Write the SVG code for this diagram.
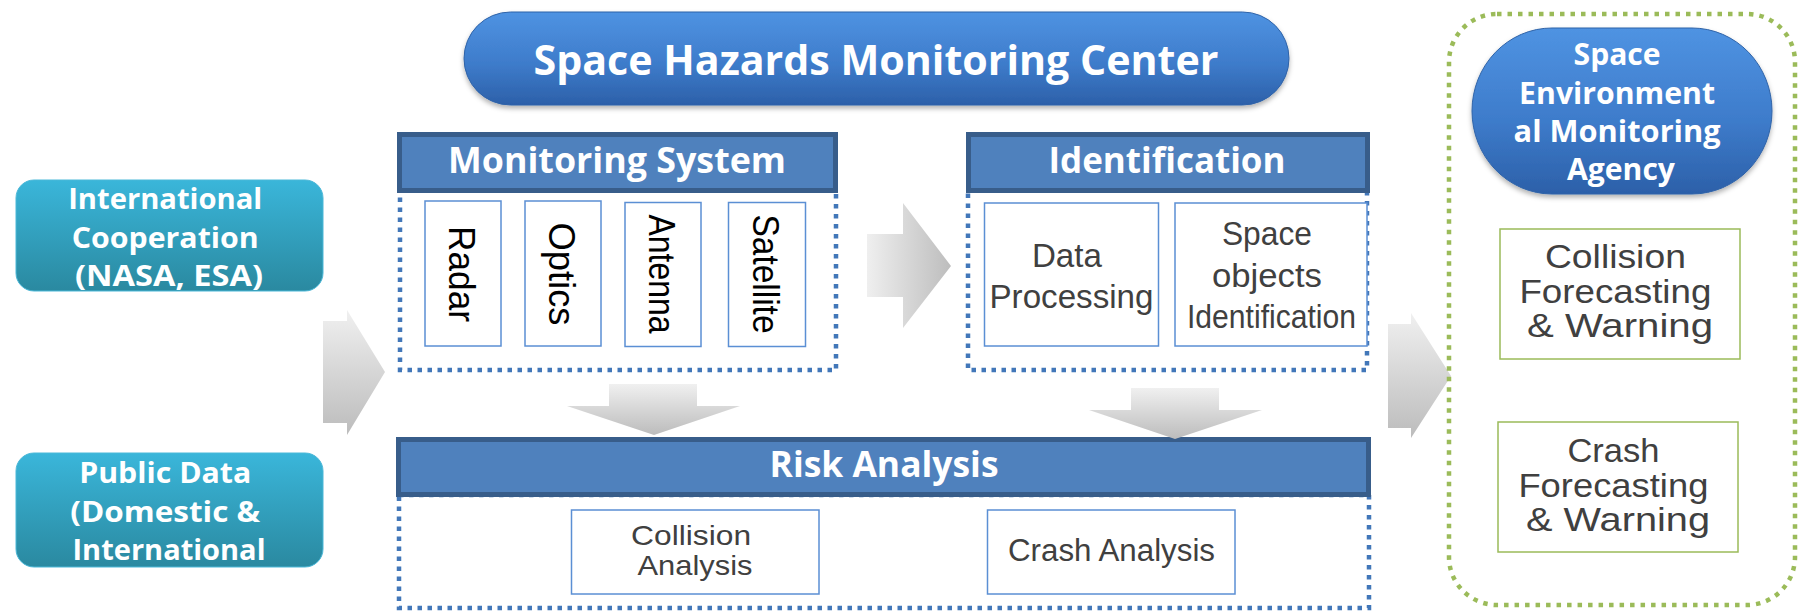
<svg xmlns="http://www.w3.org/2000/svg" width="1798" height="612" viewBox="0 0 1798 612">
<defs>
  <linearGradient id="gPill" x1="0" y1="0" x2="0" y2="1">
    <stop offset="0" stop-color="#4f93e2"/>
    <stop offset="0.55" stop-color="#3e7ccb"/>
    <stop offset="1" stop-color="#2c60a9"/>
  </linearGradient>
  <linearGradient id="gTeal" x1="0" y1="0" x2="0" y2="1">
    <stop offset="0" stop-color="#3ab6da"/>
    <stop offset="1" stop-color="#2a89a0"/>
  </linearGradient>
  <linearGradient id="gArrV" x1="0" y1="0" x2="0" y2="1">
    <stop offset="0" stop-color="#f0f0f0"/>
    <stop offset="1" stop-color="#bcbcbc"/>
  </linearGradient>
  <linearGradient id="gArrH" x1="0" y1="0" x2="1" y2="0">
    <stop offset="0" stop-color="#efefef"/>
    <stop offset="1" stop-color="#bdbdbd"/>
  </linearGradient>
  <filter id="shadow" x="-5%" y="-10%" width="110%" height="130%">
    <feDropShadow dx="0" dy="3" stdDeviation="2.5" flood-color="#000" flood-opacity="0.3"/>
  </filter>
</defs>
<style>
  .bold{font-family:"Open Sans","Noto Sans",sans-serif;font-weight:700;fill:#ffffff;text-anchor:middle}
  .reg{font-family:"Liberation Sans",Arial,sans-serif;font-weight:400;fill:#404040;text-anchor:middle}
  .rot{font-family:"Liberation Sans",Arial,sans-serif;fill:#000000;text-anchor:middle;font-size:37px}
  .hdr{fill:#4f81bd;stroke:#385d8a;stroke-width:5}
  .dotB{fill:none;stroke:#4277b9;stroke-width:4.5;stroke-dasharray:4.5 5.5}
  .dotG{fill:none;stroke:#9bbb59;stroke-width:4.5;stroke-dasharray:4.5 6}
  .box{fill:#ffffff;stroke:#5b8fd4;stroke-width:1.5}
  .gbox{fill:#ffffff;stroke:#9bbb59;stroke-width:1.5}
  .pill{fill:url(#gPill);stroke:#2f63a8;stroke-width:1}
  .teal{fill:url(#gTeal);stroke:#4bb8d8;stroke-width:1}
</style>
<rect x="0" y="0" width="1798" height="612" fill="#ffffff"/>

<g id="title">
  <rect class="pill" x="464" y="12" width="825" height="93" rx="46.5" filter="url(#shadow)"/>
  <text class="bold" x="876" y="75" font-size="42" textLength="685" lengthAdjust="spacingAndGlyphs">Space Hazards Monitoring Center</text>
</g>

<g id="intl-coop">
  <rect class="teal" x="16" y="180" width="307" height="111" rx="18"/>
  <text class="bold" font-size="29">
    <tspan x="169" y="209" textLength="194" lengthAdjust="spacingAndGlyphs">International</tspan>
    <tspan x="169" y="248" textLength="187" lengthAdjust="spacingAndGlyphs">Cooperation</tspan>
    <tspan x="169" y="286" textLength="188" lengthAdjust="spacingAndGlyphs">(NASA, ESA)</tspan>
  </text>
</g>

<g id="public-data">
  <rect class="teal" x="16" y="453" width="307" height="114" rx="18"/>
  <text class="bold" font-size="29">
    <tspan x="169" y="483" textLength="172" lengthAdjust="spacingAndGlyphs">Public Data</tspan>
    <tspan x="169" y="522" textLength="190" lengthAdjust="spacingAndGlyphs">(Domestic &amp;</tspan>
    <tspan x="169" y="560" textLength="193" lengthAdjust="spacingAndGlyphs">International</tspan>
  </text>
</g>

<g id="monitoring-system">
  <rect class="dotB" x="400" y="190" width="436" height="180"/>
  <rect class="hdr" x="399.5" y="134.5" width="436" height="56"/>
  <text class="bold" font-size="36" x="617" y="173" textLength="338" lengthAdjust="spacingAndGlyphs">Monitoring System</text>
  <g id="radar">
    <rect class="box" x="425" y="201" width="76" height="145"/>
    <text class="rot" transform="translate(449,274) rotate(90)" textLength="96" lengthAdjust="spacingAndGlyphs">Radar</text>
  </g>
  <g id="optics">
    <rect class="box" x="525" y="201" width="76" height="145"/>
    <text class="rot" transform="translate(549,274) rotate(90)" textLength="103" lengthAdjust="spacingAndGlyphs">Optics</text>
  </g>
  <g id="antenna">
    <rect class="box" x="625" y="202.5" width="76" height="144"/>
    <text class="rot" transform="translate(649,274) rotate(90)" textLength="119" lengthAdjust="spacingAndGlyphs">Antenna</text>
  </g>
  <g id="satellite">
    <rect class="box" x="728.5" y="202.5" width="77" height="144"/>
    <text class="rot" transform="translate(752.5,274) rotate(90)" textLength="119" lengthAdjust="spacingAndGlyphs">Satellite</text>
  </g>
</g>

<g id="identification">
  <rect class="dotB" x="968" y="190" width="399" height="180"/>
  <rect class="hdr" x="968.5" y="134.5" width="399" height="56"/>
  <text class="bold" font-size="36" x="1167" y="173" textLength="237" lengthAdjust="spacingAndGlyphs">Identification</text>
  <g id="data-processing">
    <rect class="box" x="984.5" y="203" width="174" height="143"/>
    <text class="reg" font-size="33">
      <tspan x="1071.5" y="267" textLength="70" lengthAdjust="spacingAndGlyphs">Data</tspan>
      <tspan x="1071.5" y="308" textLength="164" lengthAdjust="spacingAndGlyphs">Processing</tspan>
    </text>
  </g>
  <g id="space-objects">
    <rect class="box" x="1175" y="203" width="192" height="143"/>
    <text class="reg" font-size="33">
      <tspan x="1271.5" y="245" textLength="90" lengthAdjust="spacingAndGlyphs">Space</tspan>
      <tspan x="1271.5" y="287" textLength="110" lengthAdjust="spacingAndGlyphs">objects</tspan>
      <tspan x="1271.5" y="328" textLength="169" lengthAdjust="spacingAndGlyphs">Identification</tspan>
    </text>
  </g>
</g>

<g id="risk-analysis">
  <rect class="dotB" x="399" y="495" width="970" height="113"/>
  <rect class="hdr" x="398.5" y="439.5" width="970" height="55"/>
  <text class="bold" font-size="36" x="884" y="477" textLength="229" lengthAdjust="spacingAndGlyphs">Risk Analysis</text>
  <g id="collision-analysis">
    <rect class="box" x="571.5" y="510" width="247.5" height="84"/>
    <text class="reg" font-size="28">
      <tspan x="695" y="545" textLength="120" lengthAdjust="spacingAndGlyphs">Collision</tspan>
      <tspan x="695" y="575" textLength="115" lengthAdjust="spacingAndGlyphs">Analysis</tspan>
    </text>
  </g>
  <g id="crash-analysis">
    <rect class="box" x="987.5" y="510" width="247.5" height="84"/>
    <text class="reg" font-size="31" x="1111.5" y="561" textLength="207" lengthAdjust="spacingAndGlyphs">Crash Analysis</text>
  </g>
</g>

<g id="connectors">
  <path d="M323,321 L347,321 L347,310 L385,372 L347,435 L347,423 L323,423 Z" fill="url(#gArrV)"/>
  <path d="M867,234 L903,234 L903,203 L951,266 L903,328 L903,297 L867,297 Z" fill="url(#gArrH)"/>
  <path d="M609,384 L697,384 L697,406 L740,406 L654,435 L567,406 L609,406 Z" fill="url(#gArrV)"/>
  <path d="M1131,388 L1219,388 L1219,410 L1262,410 L1175,439 L1089,410 L1131,410 Z" fill="url(#gArrV)"/>
  <path d="M1388,324 L1411,324 L1411,313 L1451,376 L1411,438 L1411,428 L1388,428 Z" fill="url(#gArrV)"/>
</g>

<g id="agency-panel">
  <rect class="dotG" x="1449" y="14" width="346" height="591" rx="48"/>
  <g id="agency">
    <rect class="pill" x="1472" y="28" width="300" height="166" rx="80" ry="83" filter="url(#shadow)"/>
    <text class="bold" font-size="30">
      <tspan x="1621" y="65" textLength="87" lengthAdjust="spacingAndGlyphs">Space</tspan>
      <tspan x="1621" y="104" textLength="196" lengthAdjust="spacingAndGlyphs">Environment</tspan>
      <tspan x="1621" y="142" textLength="207" lengthAdjust="spacingAndGlyphs">al Monitoring</tspan>
      <tspan x="1621" y="180" textLength="108" lengthAdjust="spacingAndGlyphs">Agency</tspan>
    </text>
  </g>
  <g id="collision-forecast">
    <rect class="gbox" x="1500" y="229" width="240" height="130"/>
    <text class="reg" font-size="33">
      <tspan x="1620" y="268" textLength="141" lengthAdjust="spacingAndGlyphs">Collision</tspan>
      <tspan x="1620" y="302.5" textLength="192" lengthAdjust="spacingAndGlyphs">Forecasting</tspan>
      <tspan x="1620" y="337" textLength="186" lengthAdjust="spacingAndGlyphs">&amp; Warning</tspan>
    </text>
  </g>
  <g id="crash-forecast">
    <rect class="gbox" x="1498" y="422" width="240" height="130"/>
    <text class="reg" font-size="33">
      <tspan x="1618" y="462" textLength="92" lengthAdjust="spacingAndGlyphs">Crash</tspan>
      <tspan x="1618" y="496.5" textLength="190" lengthAdjust="spacingAndGlyphs">Forecasting</tspan>
      <tspan x="1618" y="531" textLength="184" lengthAdjust="spacingAndGlyphs">&amp; Warning</tspan>
    </text>
  </g>
</g>
</svg>
